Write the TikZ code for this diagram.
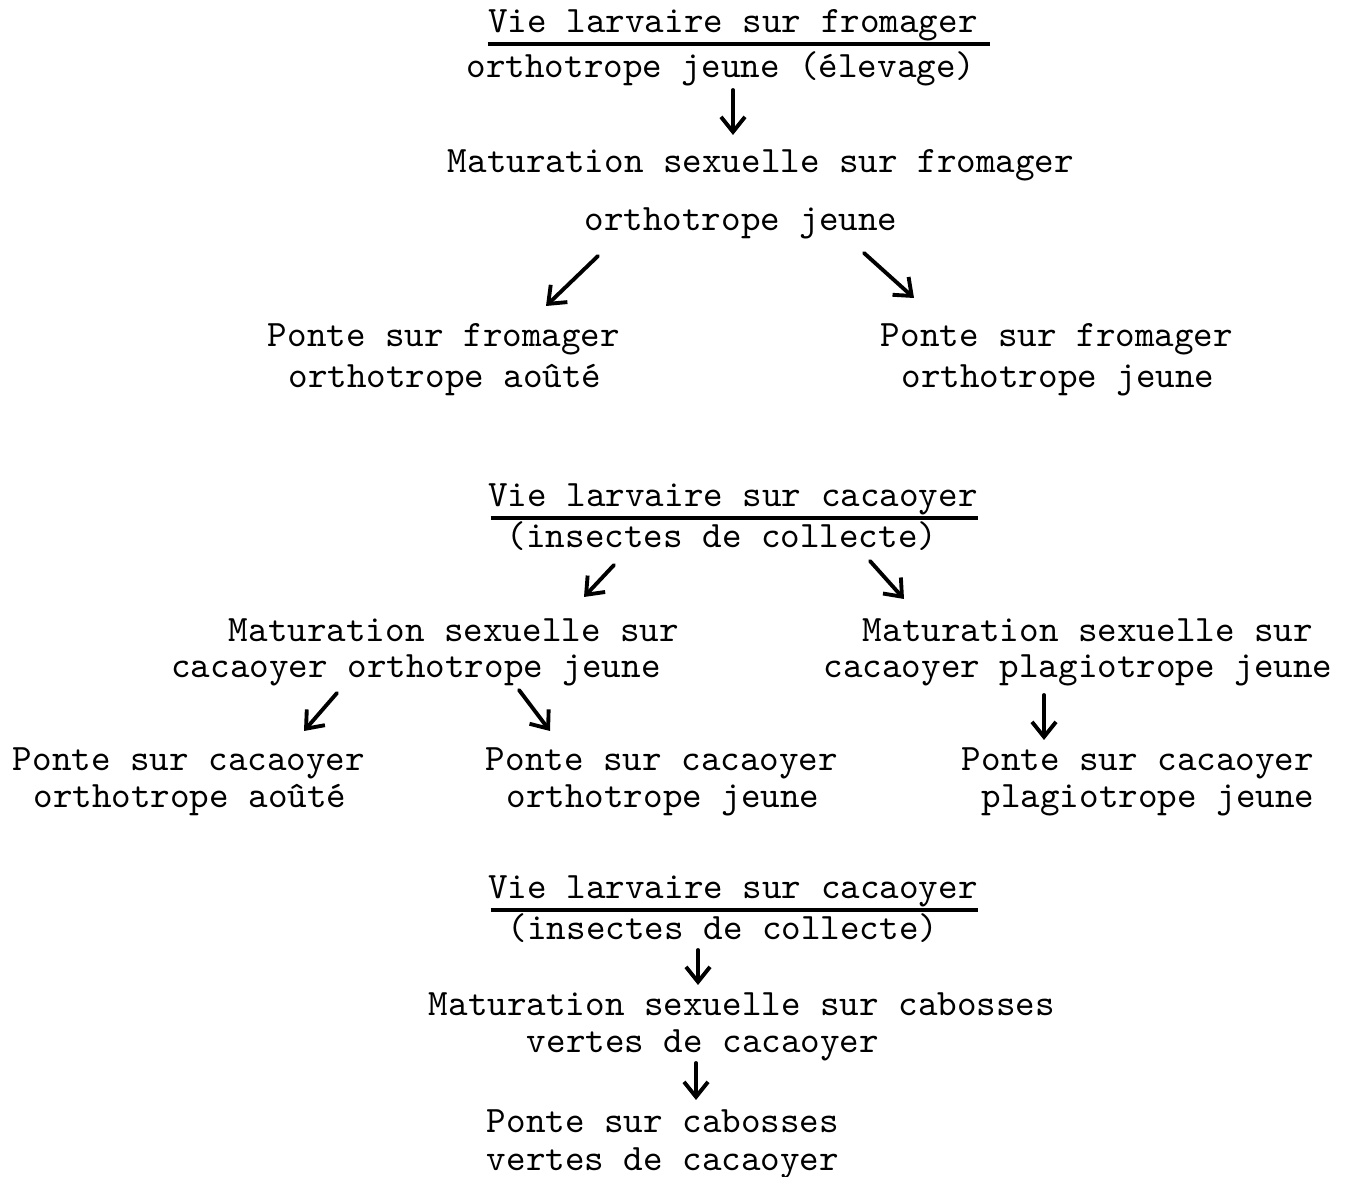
\documentclass[tikz,border=0pt]{standalone}
\usepackage{tikz}
\usetikzlibrary{arrows.meta,calc}
\tikzset{>={Straight Barb[length=1.5mm,width=2.4mm]}}
\tikzset{
  txt/.style={font=\ttfamily\fontsize{10.6}{12}\selectfont, inner sep=0pt, anchor=base},
  arr/.style={->, line width=1.1pt, line cap=round},
  uline/.style={line width=0.9pt}
}
\begin{document}
\begin{tikzpicture}[x=0.01cm,y=-0.01cm]
      \useasboundingbox (0,0) rectangle (1354,1177);
      % first scheme: fromager
      \node[txt] (v1a) at (733,33) {Vie larvaire sur fromager};
      \node[txt] (v1b) at (721,78) {orthotrope jeune (élevage)};
      \node[txt] (m1a) at (761,173) {Maturation sexuelle sur fromager};
      \node[txt] (m1b) at (741,231) {orthotrope jeune};
      \node[txt] (p1a) at (444,347) {Ponte sur fromager};
      \node[txt] (p1b) at (445,388) {orthotrope aoûté};
      \node[txt] (p2a) at (1057,347) {Ponte sur fromager};
      \node[txt] (p2b) at (1058,388) {orthotrope jeune};
      %
      % second scheme: cacaoyer
      \node[txt] (v2a) at (733,507) {Vie larvaire sur cacaoyer};
      \node[txt] (v2b) at (722,548) {(insectes de collecte)};
      \node[txt] (m2a) at (454,642) {Maturation sexuelle sur};
      \node[txt] (m2b) at (416,678) {cacaoyer orthotrope jeune};
      \node[txt] (m3a) at (1088,642) {Maturation sexuelle sur};
      \node[txt] (m3b) at (1078,678) {cacaoyer plagiotrope jeune};
      \node[txt] (p3a) at (189,771) {Ponte sur cacaoyer};
      \node[txt] (p3b) at (190,808) {orthotrope aoûté};
      \node[txt] (p4a) at (662,771) {Ponte sur cacaoyer};
      \node[txt] (p4b) at (663,808) {orthotrope jeune};
      \node[txt] (p5a) at (1138,771) {Ponte sur cacaoyer};
      \node[txt] (p5b) at (1148,808) {plagiotrope jeune};
      %
      % third scheme: cabosses
      \node[txt] (v3a) at (733,899) {Vie larvaire sur cacaoyer};
      \node[txt] (v3b) at (723,940) {(insectes de collecte)};
      \node[txt] (m4a) at (742,1016) {Maturation sexuelle sur cabosses};
      \node[txt] (m4b) at (703,1053) {vertes de cacaoyer};
      \node[txt] (p6a) at (663,1133) {Ponte sur cabosses};
      \node[txt] (p6b) at (663,1171) {vertes de cacaoyer};
      %
      % underlines
      \draw[uline] ($(v1a.base west)+(0,11)$) -- ($(v1a.base east)+(12,11)$);
      \foreach \N in {v2a,v3a} {%
        \draw[uline] ($(\N.base west)+(3,11)$) -- ($(\N.base east)+(0,11)$);
      }
      %
      % arrows
      \foreach \n/\xa/\ya/\xb/\yb in {a1/733/90/733/135, a2/598/256/546/306,
          a3/864/253/914/298, a4/614/565/584/597, a5/870/561/904/599,
          a6/337/693/304/731, a7/519/690/550/731, a8/1044/695/1044/740,
          a9/698/950/698/985, a10/696/1063/696/1100} {%
        \coordinate (\n s) at (\xa,\ya);
        \coordinate (\n e) at (\xb,\yb);
        \draw[arr] (\n s) -- (\n e);
      }
    \end{tikzpicture}
\end{document}
